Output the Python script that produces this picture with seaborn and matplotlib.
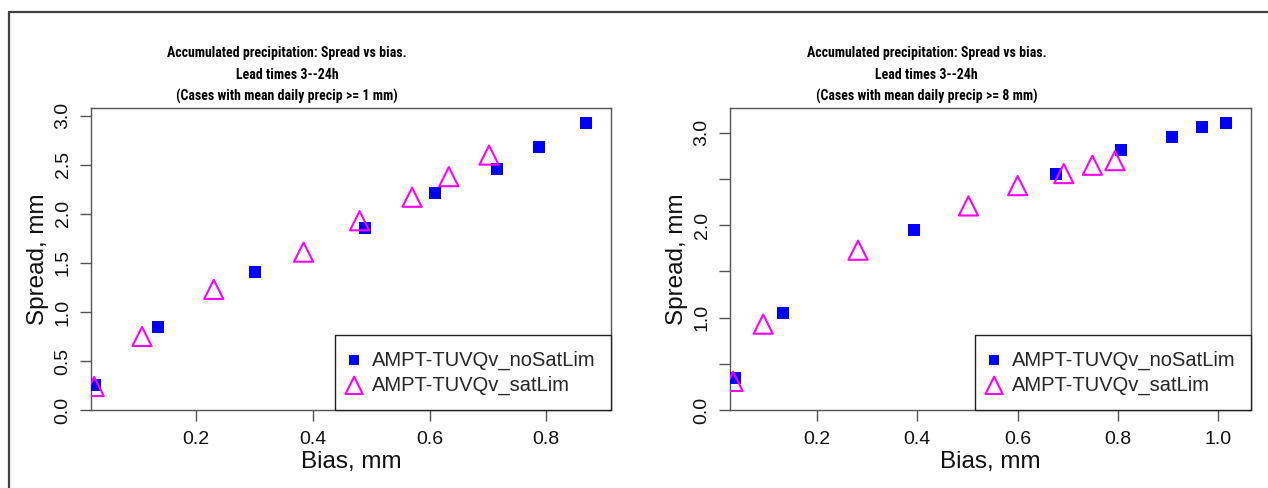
import matplotlib
matplotlib.use("Agg")
import matplotlib.pyplot as plt
from matplotlib.lines import Line2D
from matplotlib import font_manager
import seaborn as sns
import pandas as pd

sns.set_theme(style="white")
plt.rcParams["font.family"] = ["Liberation Sans", "DejaVu Sans"]

# ---------------- data ----------------
# Panel 1: cases with mean daily precip >= 1 mm
bias1_nosat = [0.027, 0.135, 0.301, 0.490, 0.610, 0.716, 0.787, 0.868]
spread1_nosat = [0.26, 0.85, 1.41, 1.86, 2.21, 2.46, 2.68, 2.93]
bias1_sat = [0.025, 0.107, 0.230, 0.384, 0.480, 0.570, 0.633, 0.702]
spread1_sat = [0.24, 0.75, 1.23, 1.61, 1.93, 2.17, 2.38, 2.60]

# Panel 2: cases with mean daily precip >= 8 mm
bias2_nosat = [0.037, 0.132, 0.394, 0.676, 0.805, 0.907, 0.968, 1.015]
spread2_nosat = [0.35, 1.05, 1.95, 2.55, 2.82, 2.96, 3.06, 3.11]
bias2_sat = [0.033, 0.093, 0.282, 0.502, 0.600, 0.692, 0.749, 0.794]
spread2_sat = [0.31, 0.93, 1.73, 2.21, 2.43, 2.56, 2.65, 2.70]

series_labels = ["AMPT-TUVQv_noSatLim", "AMPT-TUVQv_satLim"]
title_lines = ["Accumulated precipitation: Spread vs bias.", "Lead times 3--24h"]
subtitles = ["(Cases with mean daily precip >= 1 mm)",
             "(Cases with mean daily precip >= 8 mm)"]
x_label = "Bias, mm"
y_label = "Spread, mm"

xticks1 = [0.2, 0.4, 0.6, 0.8]
yticks1 = [0.0, 0.5, 1.0, 1.5, 2.0, 2.5, 3.0]
yticklabels1 = ["0.0", "0.5", "1.0", "1.5", "2.0", "2.5", "3.0"]
xticks2 = [0.2, 0.4, 0.6, 0.8, 1.0]
yticks2 = [0.0, 0.5, 1.0, 1.5, 2.0, 2.5, 3.0]
yticklabels2 = ["0.0", "", "1.0", "", "2.0", "", "3.0"]

BLUE = "#0000FF"
MAGENTA = "#FF00FF"
AXCOL = "#555555"

# pick a narrow bold face for the titles (R used a condensed Arial-like face)
bold_names = {f.name for f in font_manager.fontManager.ttflist
              if (isinstance(f.weight, int) and f.weight >= 700)
              or str(f.weight) == "bold"}
title_family = ["DejaVu Sans"]
title_stretch = "condensed"
for cand in ["Liberation Sans Narrow", "Arial Narrow", "Roboto Condensed",
             "PT Sans Narrow", "Archivo Narrow", "Fira Sans Condensed"]:
    if cand in bold_names:
        title_family = [cand, "DejaVu Sans"]
        title_stretch = "normal"
        break

W, H = 1268, 488
fig = plt.figure(figsize=(W / 100, H / 100), dpi=100)
fig.patch.set_facecolor("white")

ax1 = fig.add_axes([91 / W, (H - 410) / H, 520 / W, 302 / H])
ax2 = fig.add_axes([730 / W, (H - 410) / H, 521 / W, 302 / H])

# size the title font so that the first line is ~240 px wide as in the reference
renderer = fig.canvas.get_renderer()
probe = fig.text(0, 0, title_lines[0], fontsize=10, fontweight="bold",
                 family=title_family, fontstretch=title_stretch)
pw = probe.get_window_extent(renderer).width
probe.remove()
title_size = 10 * 240 / pw

panels = [
    (ax1, bias1_nosat, spread1_nosat, bias1_sat, spread1_sat, subtitles[0],
     xticks1, yticks1, yticklabels1, (0.0195, 0.911), (0.0, 3.08)),
    (ax2, bias2_nosat, spread2_nosat, bias2_sat, spread2_sat, subtitles[1],
     xticks2, yticks2, yticklabels2, (0.0268, 1.065), (0.0, 3.27)),
]

for (ax, bx, sy, tx, ty, sub, xt, yt, ytl, xl, yl) in panels:
    d_nosat = pd.DataFrame({"bias": bx, "spread": sy})
    d_sat = pd.DataFrame({"bias": tx, "spread": ty})
    sns.scatterplot(data=d_nosat, x="bias", y="spread", ax=ax, marker="s",
                    s=70, color=BLUE, linewidth=0, label=series_labels[0],
                    zorder=3)
    sns.scatterplot(data=d_sat, x="bias", y="spread", ax=ax, marker="^",
                    s=190, facecolors="none", edgecolors=MAGENTA,
                    linewidth=1.5, label=series_labels[1], zorder=3)
    ax.set_xlim(*xl)
    ax.set_ylim(*yl)
    ax.set_xticks(xt)
    ax.set_xticklabels([f"{v:.1f}" for v in xt])
    ax.set_yticks(yt)
    ax.set_yticklabels(ytl, rotation=90, va="center")
    ax.tick_params(axis="both", which="major", direction="out", length=8,
                   width=1, color=AXCOL, labelsize=14, labelcolor="#111111",
                   bottom=True, left=True, top=False, right=False)
    ax.tick_params(axis="x", pad=7)
    ax.tick_params(axis="y", pad=6)
    for sp in ax.spines.values():
        sp.set_color(AXCOL)
        sp.set_linewidth(1.0)
        sp.set_visible(True)
    ax.set_xlabel(x_label, fontsize=17.5, color="#111111", labelpad=2)
    ax.set_ylabel(y_label, fontsize=17.5, color="#111111", labelpad=4)
    ax.grid(False)

    # three-line bold title
    for txt, yy in zip([title_lines[0], title_lines[1], sub],
                       [(410 - 53) / 302, (410 - 75) / 302, (410 - 96) / 302]):
        ax.text(0.377, yy, txt, transform=ax.transAxes, ha="center",
                va="center", fontsize=title_size, fontweight="bold",
                fontstretch=title_stretch, family=title_family,
                color="black")

    leg = ax.legend(loc="lower right", frameon=True, fancybox=False,
                    fontsize=14.5, borderaxespad=0, borderpad=0.75,
                    handlelength=0.4, handletextpad=0.7, labelspacing=0.3,
                    markerscale=0.9)
    leg.get_frame().set_edgecolor("#222222")
    leg.get_frame().set_linewidth(1.0)
    leg.get_frame().set_facecolor("white")
    leg.get_frame().set_alpha(1)

# outer frame (top and left edges of the cropped page)
fig.add_artist(Line2D([9 / W, 1.0], [1 - 12 / H, 1 - 12 / H],
                      transform=fig.transFigure, color="#404040", lw=1.6))
fig.add_artist(Line2D([9 / W, 9 / W], [0.0, 1 - 12 / H],
                      transform=fig.transFigure, color="#404040", lw=1.6))

fig.savefig("out.png", dpi=100, facecolor="white")
